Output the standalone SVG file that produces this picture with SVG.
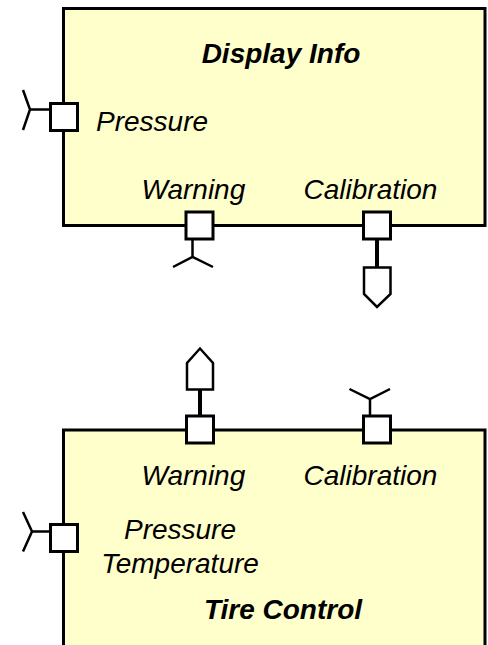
<svg xmlns="http://www.w3.org/2000/svg" width="488" height="645" viewBox="0 0 488 645">
<style>
.box{fill:#FFFFCC;stroke:#000;stroke-width:3}
.port{fill:#fff;stroke:#000;stroke-width:3}
.sym{fill:none;stroke:#000;stroke-width:2.5;stroke-linecap:butt}
.stem{stroke:#000;stroke-width:4}
.lolly{fill:#fff;stroke:#000;stroke-width:2.5;stroke-linejoin:miter}
text{font-family:"Liberation Sans",Arial,sans-serif;font-size:28px;font-style:italic;fill:#000}
.title{font-weight:bold}
</style>
<rect width="488" height="645" fill="#fff"/>
<g id="display-info">
  <rect class="box" x="63.5" y="8.5" width="421.5" height="217"/>
  <text class="title" x="281" y="62.5" text-anchor="middle">Display Info</text>
  <text x="96" y="130.5">Pressure</text>
  <text x="141.5" y="199">Warning</text>
  <text x="303.5" y="199">Calibration</text>
</g>
<g id="tire-control">
  <rect x="63.5" y="430" width="421.5" height="220" fill="#FFFFCC"/>
  <path class="box" fill="none" style="fill:none" d="M63.5,650 V430 H485 V650"/>
  <text x="141.5" y="485">Warning</text>
  <text x="303.5" y="485">Calibration</text>
  <text x="180" y="539" text-anchor="middle">Pressure</text>
  <text x="180" y="572.5" text-anchor="middle">Temperature</text>
  <text class="title" x="283" y="619" text-anchor="middle">Tire Control</text>
</g>
<g id="connectors">
  <path class="sym" d="M49,109.5 H30 M23,90 L30,109.5 L23,130"/>
  <path class="sym" d="M192.5,240 V257 M173,267 L192.5,257 L213,267"/>
  <line class="stem" x1="377" y1="239" x2="377" y2="267"/>
  <path class="lolly" d="M364,267.5 H390.5 V294 L377,307 L364,294 Z"/>
  <line class="stem" x1="200" y1="389" x2="200" y2="416"/>
  <path class="lolly" d="M187,389.5 V363 L200,348.5 L213,363 V389.5 Z"/>
  <path class="sym" d="M370,415 V399 M349.5,389 L370,399 L390,389"/>
  <path class="sym" d="M49,531.5 H32 M23,512 L32,531.5 L23,551.5"/>
</g>
<g id="port-display-pressure"><rect class="port" x="50.5" y="103.5" width="27" height="27"/></g>
<g id="port-display-warning"><rect class="port" x="186" y="212" width="27" height="27"/></g>
<g id="port-display-calibration"><rect class="port" x="363.5" y="212" width="27" height="27"/></g>
<g id="port-tire-warning"><rect class="port" x="186.5" y="416" width="27" height="27"/></g>
<g id="port-tire-calibration"><rect class="port" x="363.5" y="416" width="27" height="27"/></g>
<g id="port-tire-pressure"><rect class="port" x="50.5" y="524.5" width="27" height="27"/></g>
</svg>
